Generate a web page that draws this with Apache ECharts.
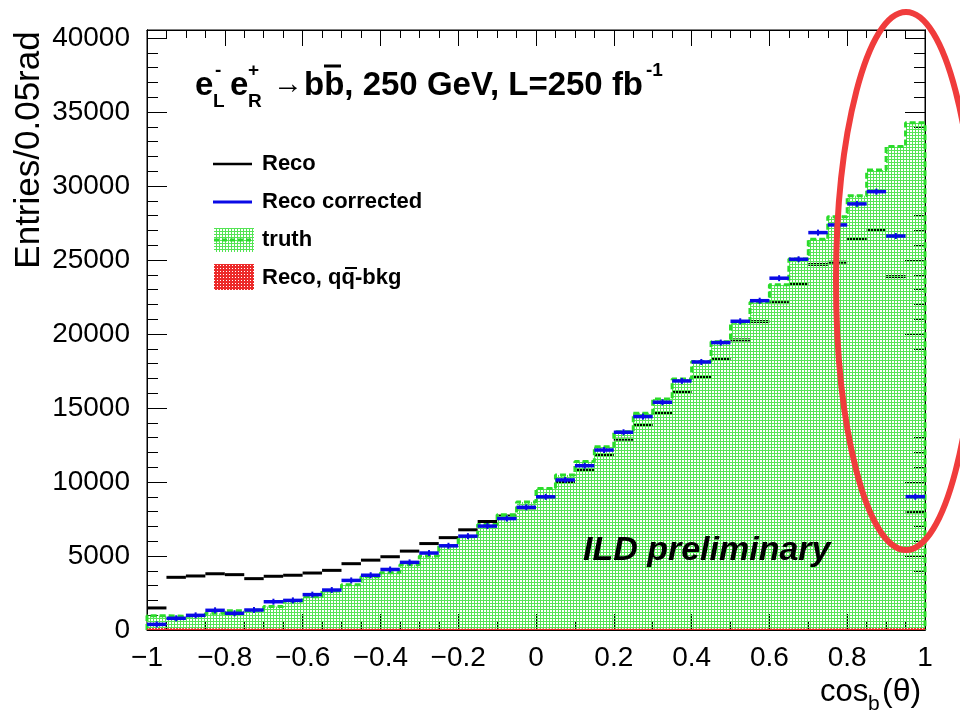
<!DOCTYPE html>
<html>
<head>
<meta charset="utf-8">
<title>cos_b(theta) distribution</title>
<script src="https://cdn.jsdelivr.net/npm/echarts/dist/echarts.min.js"></script>
<style>
  html, body { margin: 0; padding: 0; background: #ffffff; }
  #chart { width: 960px; height: 715px; }
</style>
</head>
<body>
<div id="chart"></div>
<script>
// Bin edges of cos_b(theta): 40 bins of width 0.05 from -1 to 1
const binEdges = [
  -1.00, -0.95, -0.90, -0.85, -0.80, -0.75, -0.70, -0.65, -0.60, -0.55,
  -0.50, -0.45, -0.40, -0.35, -0.30, -0.25, -0.20, -0.15, -0.10, -0.05,
   0.00,  0.05,  0.10,  0.15,  0.20,  0.25,  0.30,  0.35,  0.40,  0.45,
   0.50,  0.55,  0.60,  0.65,  0.70,  0.75,  0.80,  0.85,  0.90,  0.95, 1.00
];

// Entries per bin
const recoCounts = [
  1490, 3560, 3650, 3800, 3740, 3470, 3630, 3700, 3850, 4030,
  4480, 4720, 4950, 5330, 5840, 6240, 6770, 7330, 7700, 8250,
  8950, 10000, 10810, 11820, 12890, 13860, 14640, 16060, 17080, 18320,
  19600, 20840, 22120, 23360, 24700, 24850, 26400, 27030, 23880, 7930
];
const recoCorrectedCounts = [
  380, 790, 990, 1330, 1130, 1350, 1910, 2000, 2390, 2700,
  3350, 3700, 4090, 4570, 5200, 5690, 6340, 7020, 7530, 8290,
  9000, 10140, 11100, 12160, 13360, 14420, 15390, 16830, 18110, 19420,
  20860, 22250, 23770, 25050, 26850, 27370, 28790, 29620, 26620, 9010
];
const truthCounts = [
  970, 930, 980, 1130, 1300, 1360, 1580, 1960, 2250, 2640,
  3060, 3600, 3870, 4410, 5000, 5700, 6300, 7120, 7780, 8650,
  9560, 10470, 11380, 12390, 13400, 14640, 15610, 16960, 18140, 19480,
  20800, 22150, 23320, 25070, 26400, 27930, 29340, 31080, 32670, 34280
];
const bkgCounts = [
  130, 120, 110, 110, 100, 100, 100, 90, 90, 90,
  90, 90, 90, 90, 90, 90, 90, 90, 90, 90,
  90, 90, 90, 90, 90, 90, 90, 90, 90, 90,
  100, 100, 100, 100, 100, 110, 110, 120, 120, 130
];

// Axis settings
const xRange = [-1, 1];
const xMajorStep = 0.2;
const yRange = [0, 40540];
const yMajorStep = 5000;
const yMinorStep = 1000;

const FONT = '"Liberation Sans", Arial, Helvetica, sans-serif';

// Hatched fill: coloured grid with transparent holes
function makePattern(color, size, hole) {
  const c = document.createElement('canvas');
  c.width = size; c.height = size;
  const g = c.getContext('2d');
  g.fillStyle = color;
  g.fillRect(0, 0, size, size);
  g.clearRect(1, 1, hole, hole);
  return { image: c, repeat: 'repeat' };
}
const greenFill = makePattern('#55e455', 3, 2);
const redFill = makePattern('#ec2a2a', 3, 1);

function binData(counts) {
  return counts.map((v, i) => [binEdges[i], binEdges[i + 1], v]);
}

// Filled histogram bin
function fillRenderer(pattern) {
  return function (params, api) {
    const p0 = api.coord([api.value(0), api.value(2)]);
    const p1 = api.coord([api.value(1), 0]);
    const x0 = Math.round(p0[0]), x1 = Math.round(p1[0]);
    return {
      type: 'rect',
      shape: { x: x0, y: p0[1], width: x1 - x0, height: p1[1] - p0[1] },
      style: { fill: pattern }
    };
  };
}

// Horizontal bin marker with a small error tick at the bin centre
function markerRenderer(color, width, tick) {
  return function (params, api) {
    const a = api.coord([api.value(0), api.value(2)]);
    const b = api.coord([api.value(1), api.value(2)]);
    const children = [{
      type: 'line',
      shape: { x1: a[0], y1: a[1], x2: b[0], y2: b[1] },
      style: { stroke: color, lineWidth: width }
    }];
    if (tick) {
      const cx = (a[0] + b[0]) / 2;
      children.push({
        type: 'line',
        shape: { x1: cx, y1: a[1] - tick, x2: cx, y2: a[1] + tick },
        style: { stroke: color, lineWidth: 2 }
      });
    }
    return { type: 'group', children: children };
  };
}

// Outline of the truth histogram as a step line
const truthOutline = [[binEdges[0], 0]];
truthCounts.forEach((v, i) => truthOutline.push([binEdges[i], v]));
truthOutline.push([binEdges[binEdges.length - 1], truthCounts[truthCounts.length - 1]]);
truthOutline.push([binEdges[binEdges.length - 1], 0]);

function xLabel(v) {
  const r = Math.round(v * 10) / 10;
  if (Math.abs(r) < 1e-9) return '0';
  return r < 0 ? '\u2212' + String(-r) : String(r);
}

const black = '#000000';
const axisLineStyle = { show: true, onZero: false, lineStyle: { color: black, width: 1 } };

function xAxisDef(position, showLabels) {
  return {
    type: 'value', position: position, min: xRange[0], max: xRange[1], interval: xMajorStep,
    axisLine: axisLineStyle,
    axisTick: { show: true, inside: true, length: 16, lineStyle: { color: black, width: 1 } },
    minorTick: { show: true, splitNumber: 4, length: 8, lineStyle: { color: black, width: 1 } },
    splitLine: { show: false },
    minorSplitLine: { show: false },
    axisLabel: {
      show: showLabels, margin: 14, color: black, fontFamily: FONT, fontSize: 28,
      formatter: xLabel
    }
  };
}

function yAxisDef(position, step, tickLen, showLabels) {
  return {
    type: 'value', position: position, min: yRange[0], max: yRange[1], interval: step,
    axisLine: axisLineStyle,
    axisTick: { show: true, inside: true, length: tickLen, lineStyle: { color: black, width: 1 } },
    splitLine: { show: false },
    axisLabel: {
      show: showLabels, margin: 17, color: black, fontFamily: FONT, fontSize: 28,
      formatter: v => (v % yMajorStep === 0 ? String(v) : '')
    }
  };
}

const chart = echarts.init(document.getElementById('chart'), null, { renderer: 'canvas' });

// Process label, built from pieces so that scripts sit above/below their letters
const title = [
  { t: 'e', x: 195, y: 86, s: 33, w: 'bold' },
  { t: '-', x: 215, y: 71, s: 19, w: 'bold' },
  { t: 'L', x: 213, y: 102, s: 19, w: 'bold' },
  { t: 'e', x: 230, y: 86, s: 33, w: 'bold' },
  { t: '+', x: 248, y: 71, s: 19, w: 'bold' },
  { t: 'R', x: 248, y: 102, s: 19, w: 'bold' },
  { t: '\u2192', x: 273, y: 85, s: 30, w: 'normal' },
  { t: 'bb, 250 GeV, L=250 fb', x: 304, y: 86, s: 33, w: 'bold' },
  { t: '-1', x: 646, y: 71, s: 19, w: 'bold' }
];

const graphics = [];
title.forEach(p => graphics.push({
  type: 'text', z: 100,
  style: { text: p.t, x: p.x, y: p.y, fill: black, font: p.w + ' ' + p.s + 'px ' + FONT, verticalAlign: 'middle' }
}));
// overline of the anti-b
graphics.push({ type: 'line', z: 100, shape: { x1: 324, y1: 66, x2: 341, y2: 66 }, style: { stroke: black, lineWidth: 3 } });

// Legend
const legendFont = 'bold 22px ' + FONT;
graphics.push(
  { type: 'line', z: 100, shape: { x1: 213, y1: 164, x2: 252, y2: 164 }, style: { stroke: black, lineWidth: 2.5 } },
  { type: 'text', z: 100, style: { text: 'Reco', x: 262, y: 164, fill: black, font: legendFont, verticalAlign: 'middle' } },
  { type: 'line', z: 100, shape: { x1: 213, y1: 202, x2: 252, y2: 202 }, style: { stroke: '#0a0ae6', lineWidth: 3 } },
  { type: 'text', z: 100, style: { text: 'Reco corrected', x: 262, y: 202, fill: black, font: legendFont, verticalAlign: 'middle' } },
  { type: 'rect', z: 100, shape: { x: 214, y: 228, width: 40, height: 24 }, style: { fill: greenFill } },
  { type: 'line', z: 100, shape: { x1: 214, y1: 240, x2: 254, y2: 240 }, style: { stroke: '#2bdc2b', lineWidth: 3, lineDash: [5, 3] } },
  { type: 'text', z: 100, style: { text: 'truth', x: 262, y: 240, fill: black, font: legendFont, verticalAlign: 'middle' } },
  { type: 'rect', z: 100, shape: { x: 214, y: 264, width: 40, height: 26 }, style: { fill: redFill } },
  { type: 'text', z: 100, style: { text: 'Reco, qq-bkg', x: 262, y: 278, fill: black, font: legendFont, verticalAlign: 'middle' } },
  { type: 'line', z: 100, shape: { x1: 345, y1: 268, x2: 357, y2: 268 }, style: { stroke: black, lineWidth: 2 } }
);

// Axis titles
graphics.push(
  { type: 'text', z: 100, x: 29, y: 150, rotation: Math.PI / 2,
    style: { text: 'Entries/0.05rad', x: 0, y: 0, fill: black, font: '35px ' + FONT, align: 'center', verticalAlign: 'middle' } },
  { type: 'text', z: 100, style: { text: 'cos', x: 820, y: 692, fill: black, font: '31px ' + FONT, verticalAlign: 'middle' } },
  { type: 'text', z: 100, style: { text: 'b', x: 868, y: 704, fill: black, font: '21px ' + FONT, verticalAlign: 'middle' } },
  { type: 'text', z: 100, style: { text: '(\u03b8)', x: 882, y: 692, fill: black, font: '32px ' + FONT, verticalAlign: 'middle' } }
);

// Plot label
graphics.push({ type: 'text', z: 100,
  style: { text: 'ILD preliminary', x: 583, y: 551, fill: black, font: 'italic bold 34px ' + FONT, verticalAlign: 'middle' } });

// Annotation ellipse
graphics.push({ type: 'ellipse', z: 110, shape: { cx: 906, cy: 281, rx: 70, ry: 269 },
  style: { fill: 'none', stroke: '#f03c3c', lineWidth: 6 } });

chart.setOption({
  backgroundColor: '#ffffff',
  animation: false,
  grid: { left: 147, right: 35, top: 30, bottom: 85, show: true, borderColor: black, borderWidth: 1, backgroundColor: 'transparent' },
  xAxis: [xAxisDef('bottom', true), xAxisDef('top', false)],
  yAxis: [
    yAxisDef('left', yMajorStep, 20, true),
    yAxisDef('left', yMinorStep, 11, false),
    yAxisDef('right', yMajorStep, 20, false),
    yAxisDef('right', yMinorStep, 11, false)
  ],
  series: [
    {
      name: 'Reco', type: 'custom', xAxisIndex: 0, yAxisIndex: 0, z: 2,
      renderItem: markerRenderer(black, 3, 0),
      encode: { x: [0, 1], y: 2 },
      data: binData(recoCounts)
    },
    {
      name: 'truth', type: 'custom', xAxisIndex: 0, yAxisIndex: 0, z: 3,
      renderItem: fillRenderer(greenFill),
      encode: { x: [0, 1], y: 2 },
      data: binData(truthCounts)
    },
    {
      name: 'truth outline', type: 'line', xAxisIndex: 0, yAxisIndex: 0, z: 4,
      step: 'end', showSymbol: false, silent: true,
      lineStyle: { color: '#2bdc2b', width: 3, type: [6, 3] },
      data: truthOutline
    },
    {
      name: 'Reco, qq-bkg', type: 'custom', xAxisIndex: 0, yAxisIndex: 0, z: 5,
      renderItem: fillRenderer(redFill),
      encode: { x: [0, 1], y: 2 },
      data: binData(bkgCounts)
    },
    {
      name: 'Reco corrected', type: 'custom', xAxisIndex: 0, yAxisIndex: 0, z: 6,
      renderItem: markerRenderer('#0a0ae6', 3.5, 3),
      encode: { x: [0, 1], y: 2 },
      data: binData(recoCorrectedCounts)
    }
  ],
  graphic: graphics
});
</script>
</body>
</html>
